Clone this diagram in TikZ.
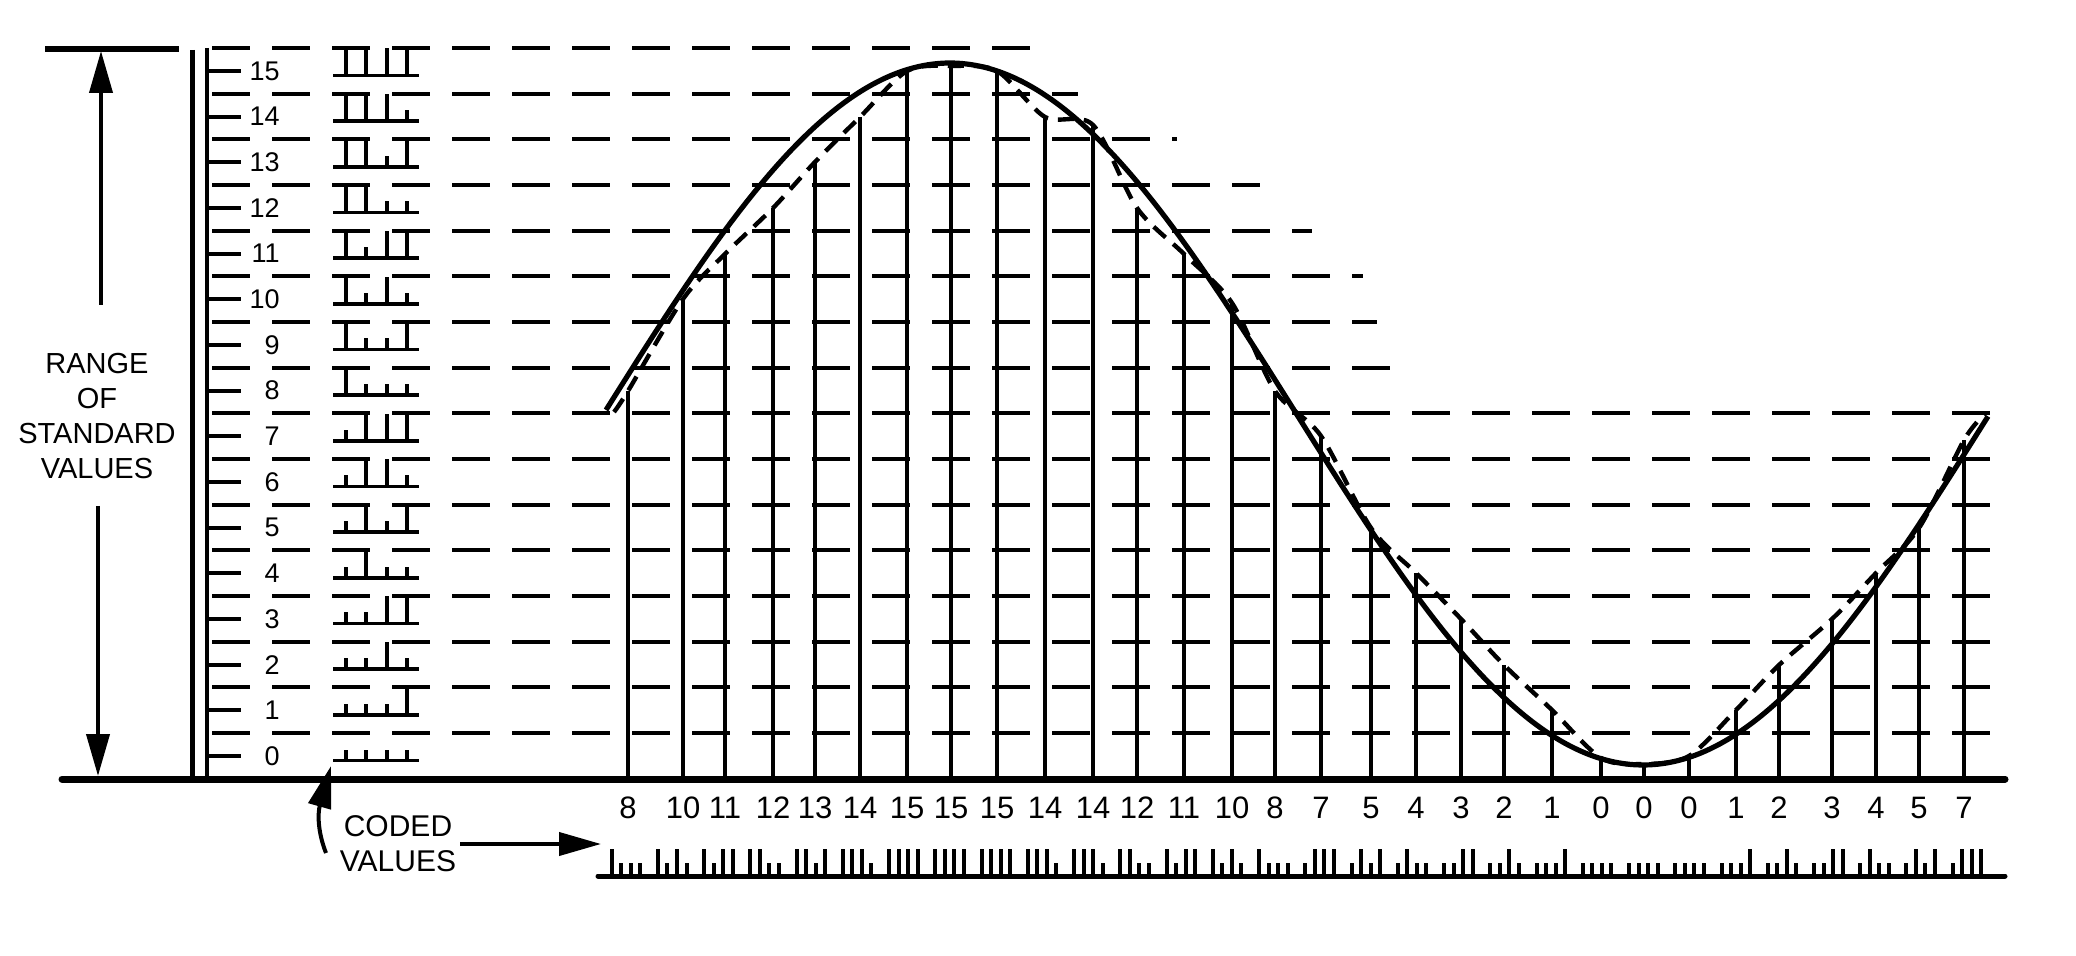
\documentclass[tikz,border=0pt]{standalone}
\usepackage{fontspec}
\setmainfont{Liberation Sans}
\usetikzlibrary{arrows.meta}
\begin{document}
\begin{tikzpicture}[x=0.5pt,y=-0.5pt,
  hdash/.style={line width=2pt, dash pattern=on 19pt off 11pt},
  samp/.style={line width=2.2pt},
  wave/.style={line width=2.6pt, line join=round},
  approx/.style={line width=2.2pt, dash pattern=on 8pt off 5pt},
  base/.style={line width=3.5pt, line cap=round},
  pulse/.style={line width=1.8pt},
  tickln/.style={line width=2pt},
  arr/.style={line width=2pt, -{Triangle[length=21pt,width=11.5pt]}},
  ticklab/.style={font=\fontsize{13.5}{15}\selectfont, inner sep=0pt, anchor=east},
  botlab/.style={font=\fontsize{15.5}{17}\selectfont, inner sep=0pt},
  txt/.style={font=\fontsize{14.5}{17.5}\selectfont, align=center, inner sep=2pt}]
\useasboundingbox (0,0) rectangle (2076,956);

% horizontal dashed level lines
\foreach \k/\xe in {0/2003,1/2003,2/2003,3/2003,4/2003,5/2003,6/2003,7/2003,8/1403,9/1377,10/1363,11/1312,12/1260,13/1177,14/1078,15/1030}{
  \draw[hdash] (212,{756-45.67*(\k+0.5)}) -- (\xe,{756-45.67*(\k+0.5)});
}

% double vertical axis
\draw[line width=2.5pt] (192,50) -- (192,779);
\draw[line width=1.8pt] (207,48) -- (207,779);

% ticks, labels and coded groups on the left
\foreach \val in {0,...,15}{
  \pgfmathsetmacro\yv{756-45.67*\val}
  \draw[tickln] (207,\yv) -- (241,\yv);
  \node[ticklab] at (280,\yv) {\val};
  \pgfmathsetmacro\yb{\yv+4.5}
  \draw[pulse] (333,\yb) -- (419,\yb);
  \foreach \w/\px in {8/346,4/366,2/387,1/407}{
    \pgfmathsetmacro\hh{mod(floor(\val/\w),2)==1 ? 27 : 11}
    \draw[pulse] (\px,\yb) -- (\px,\yb-\hh);
  }
}

% sample lines and their values
\foreach \sx/\val/\yt [count=\n] in {628/8/391,683/10/299,725/11/254,773/12/208,815/13/162,860/14/117,907/15/70,951/15/64,997/15/71,1045/14/117,1093/14/125,1137/12/208,1184/11/254,1232/10/303,1275/8/391,1321/7/436,1371/5/528,1416/4/573,1461/3/619,1504/2/665,1552/1/710,1601/0/760,1644/0/767,1689/0/756,1736/1/710,1779/2/665,1832/3/619,1876/4/573,1919/5/528,1964/7/440}{
  \draw[samp] (\sx,779) -- (\sx,\yt);
  \node[botlab] (lab\n) at (\sx,808) {\val};
}

% quantised (decoded) curve
\draw[approx] plot[smooth] coordinates {(614,412) (628,391) (683,299) (725,254) (773,208) (815,162) (860,117) (907,71) (951,66) (997,71) (1045,117) (1093,125) (1137,208) (1184,254) (1232,303) (1275,391) (1321,436) (1371,528) (1416,573) (1461,619) (1504,665) (1552,710) (1601,758) (1644,764) (1689,756) (1736,710) (1779,665) (1832,619) (1876,573) (1919,528) (1964,440) (1985,414)};

% analog sine wave
\draw[wave] plot[domain=606:1988, samples=160, smooth] (\x,{414-351*cos((\x-950)/693*180)});

% base line
\draw[base] (62,779) -- (2005,779);

% range marker
\draw[line width=2.6pt] (45,49) -- (179,49);
\node[txt] (range) at (97,416) {RANGE\\OF\\STANDARD\\VALUES};
\coordinate (upstart) at (101,305);
\coordinate (uptip) at (101,51);
\coordinate (dnstart) at (98,506);
\coordinate (dntip) at (98,776);
\draw[arr] (upstart) -- (uptip);
\draw[arr] (dnstart) -- (dntip);

% coded values
\node[txt, font=\fontsize{15}{17.5}\selectfont] (coded) at (398,844) {CODED\\VALUES};
\coordinate (streamstart) at (601,844);
\coordinate (cvstart) at (326,853);
\coordinate (cvtip) at (331,766);
\draw[arr] (coded.east) -- (streamstart);
\draw[arr] (cvstart) .. controls (317,830) and (318,812) .. (cvtip);

% coded pulse stream
\draw[line width=2.5pt, line cap=round] (598,876) -- (2005,876);
\foreach \val [count=\i from 0] in {8,10,11,12,13,14,15,15,15,14,14,12,11,10,8,7,5,4,3,2,1,0,0,0,1,2,3,4,5,7}{
  \pgfmathsetmacro\cx{626+46.24*\i}
  \foreach \w [count=\b from 0] in {8,4,2,1}{
    \pgfmathsetmacro\hh{mod(floor(\val/\w),2)==1 ? 27 : 13}
    \draw[pulse, line width=2pt] ({\cx-14.25+9.5*\b},876) -- ++(0,-\hh);
  }
}
\end{tikzpicture}
\end{document}
